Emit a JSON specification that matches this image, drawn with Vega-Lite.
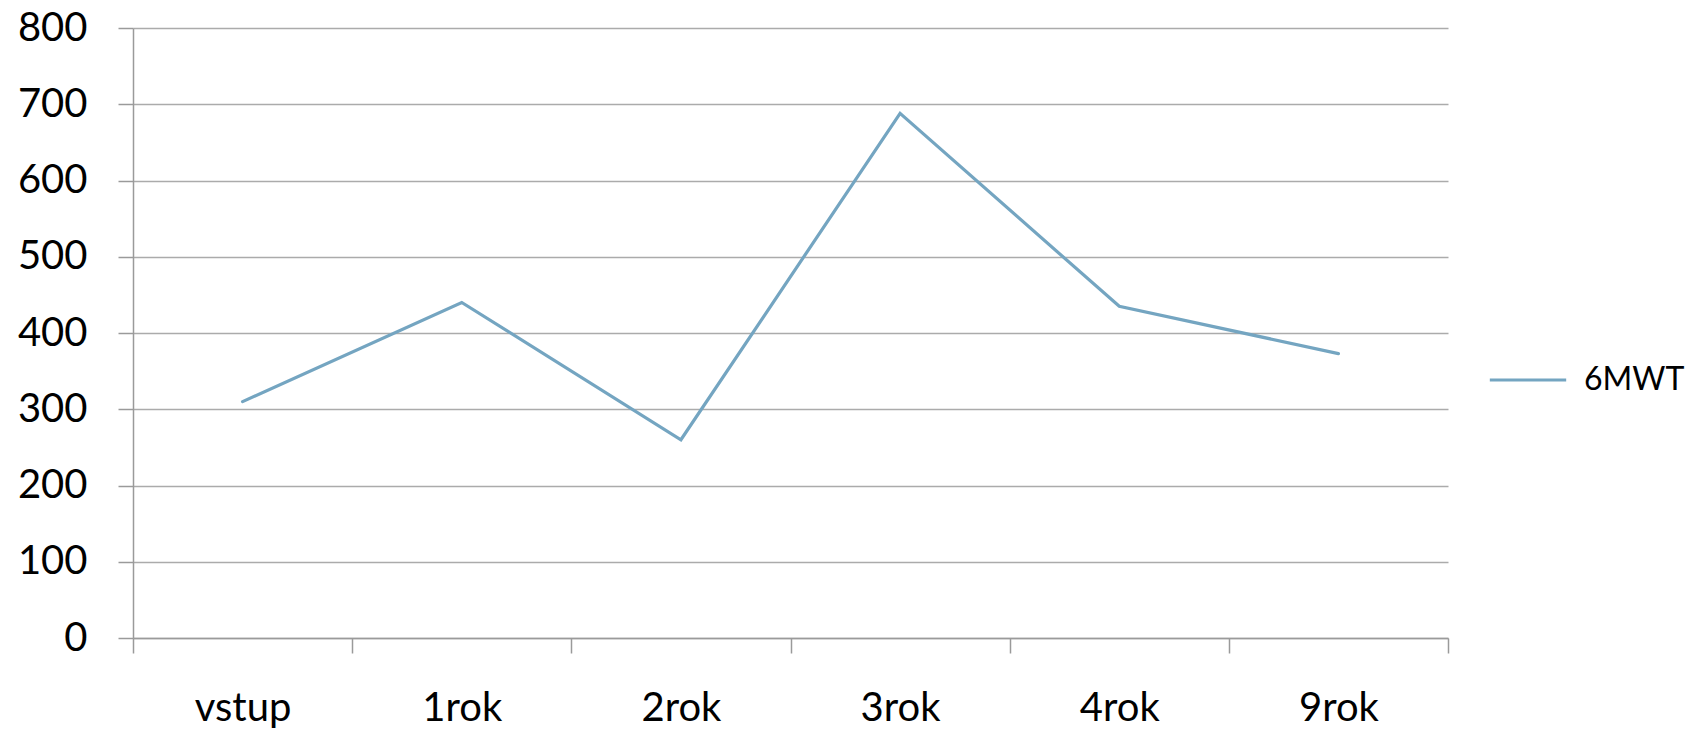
{
  "$schema": "https://vega.github.io/schema/vega-lite/v6.json",
  "autosize": "none",
  "width": 1315,
  "height": 610,
  "padding": {"left": 133, "top": 28, "right": 240, "bottom": 100},
  "background": "white",
  "config": {
    "view": {"stroke": null},
    "font": "Lato",
    "axis": {
      "labelFont": "Lato",
      "labelFontSize": 40,
      "labelColor": "#000000",
      "domainColor": "#9a9a9a",
      "domainWidth": 1.5,
      "tickColor": "#9a9a9a",
      "tickWidth": 1.5,
      "tickSize": 15,
      "gridColor": "#ababab",
      "gridWidth": 1.5,
      "title": null
    }
  },
  "data": {
    "values": [
      {"obdobi": "vstup", "hodnota": 310, "serie": "6MWT"},
      {"obdobi": "1rok", "hodnota": 440, "serie": "6MWT"},
      {"obdobi": "2rok", "hodnota": 260, "serie": "6MWT"},
      {"obdobi": "3rok", "hodnota": 688, "serie": "6MWT"},
      {"obdobi": "4rok", "hodnota": 435, "serie": "6MWT"},
      {"obdobi": "9rok", "hodnota": 373, "serie": "6MWT"}
    ]
  },
  "mark": {"type": "line", "strokeWidth": 3.2, "strokeCap": "round", "strokeJoin": "miter"},
  "encoding": {
    "x": {
      "field": "obdobi",
      "type": "nominal",
      "sort": null,
      "scale": {"type": "band", "paddingInner": 0, "paddingOuter": 0},
      "axis": {
        "labelAngle": 0,
        "tickBand": "extent",
        "grid": false,
        "labelPadding": 35,
        "labelBaseline": "top"
      }
    },
    "y": {
      "field": "hodnota",
      "type": "quantitative",
      "scale": {"domain": [0, 800], "nice": false},
      "axis": {
        "values": [0, 100, 200, 300, 400, 500, 600, 700, 800],
        "grid": true,
        "labelPadding": 31,
        "domain": true
      }
    },
    "color": {
      "field": "serie",
      "type": "nominal",
      "scale": {"range": ["#74a5c1"]},
      "legend": {
        "title": null,
        "orient": "none",
        "legendX": 1355,
        "legendY": 312,
        "symbolType": "stroke",
        "symbolSize": 5832,
        "symbolStrokeWidth": 3.2,
        "labelFont": "Lato",
        "labelFontSize": 32,
        "labelColor": "#000000",
        "labelOffset": 16,
        "padding": 0
      }
    }
  }
}
